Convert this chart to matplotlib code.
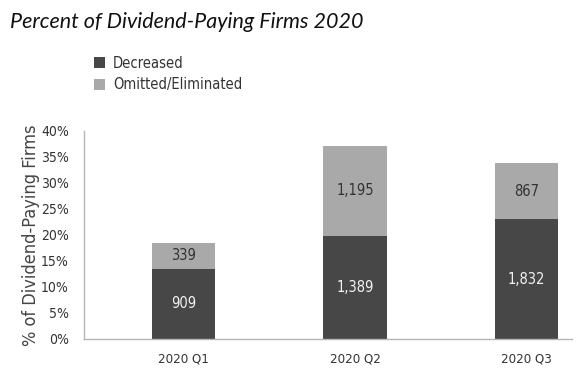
import matplotlib
matplotlib.use("Agg")
import matplotlib.pyplot as plt
from matplotlib import font_manager as fm

categories = ["2020 Q1", "2020 Q2", "2020 Q3"]
decreased_pct = [13.5, 19.9, 23.0]
omitted_pct = [5.0, 17.3, 10.9]
decreased_counts = ["909", "1,389", "1,832"]
omitted_counts = ["339", "1,195", "867"]
yticks = [0, 5, 10, 15, 20, 25, 30, 35, 40]

# find a condensed / narrow font file
cand = None
files = fm.findSystemFonts()
for pref in ["LiberationSansNarrow-Regular", "DejaVuSansCondensed.ttf", "Condensed-Regular", "Narrow"]:
    for f in files:
        if pref in f.split("/")[-1] and "Bold" not in f and "Oblique" not in f and "Italic" not in f:
            cand = f
            break
    if cand:
        break


def fp(size):
    if cand:
        return fm.FontProperties(fname=cand, size=size)
    return fm.FontProperties(family="DejaVu Sans", stretch="condensed", size=size)


W, H = 582, 380
fig = plt.figure(figsize=(W / 100, H / 100), dpi=100)
ax = fig.add_axes([84 / W, 1 - 339 / H, (572 - 84) / W, (339 - 131) / H])

dark = "#474747"
light = "#a9a9a9"
x = list(range(len(categories)))
width = 0.37
b1 = ax.bar(x, decreased_pct, width, color=dark, label="Decreased")
b2 = ax.bar(x, omitted_pct, width, bottom=decreased_pct, color=light, label="Omitted/Eliminated")

for i in x:
    ax.text(i, decreased_pct[i] / 2, decreased_counts[i], ha="center", va="center",
            color="#f2f2f2", fontproperties=fp(10.5))
    ax.text(i, decreased_pct[i] + omitted_pct[i] / 2, omitted_counts[i], ha="center", va="center",
            color="#333333", fontproperties=fp(10.5))

ax.set_xlim(-0.58, 2.265)
ax.set_ylim(0, 40)
ax.set_yticks(yticks)
ax.set_yticklabels([f"{t}%" for t in yticks], fontproperties=fp(10), color="#333333")
ax.set_xticks(x)
ax.set_xticklabels(categories, fontproperties=fp(9.5), color="#333333")
ax.tick_params(axis="both", length=0)
ax.tick_params(axis="y", pad=11)
ax.tick_params(axis="x", pad=10)
for s in ["top", "right"]:
    ax.spines[s].set_visible(False)
for s in ["left", "bottom"]:
    ax.spines[s].set_color("#b5b5b5")
    ax.spines[s].set_linewidth(1.0)

ax.set_ylabel("% of Dividend-Paying Firms", fontproperties=fp(13), color="#444444", labelpad=1)

fig.text(10 / W, 1 - 22 / H, "Percent of Dividend-Paying Firms 2020", fontsize=15.5,
         style="italic", family="Lato", va="center", ha="left", color="#111111")

leg = fig.legend(handles=[b1, b2], loc="upper left", bbox_to_anchor=(88 / W, 1 - 50 / H),
                 frameon=False, prop=fp(10.5), handlelength=0.75,
                 handleheight=0.75, handletextpad=0.55, labelspacing=0.45, borderaxespad=0)
for t in leg.get_texts():
    t.set_color("#333333")

fig.savefig("out.png", dpi=100)
